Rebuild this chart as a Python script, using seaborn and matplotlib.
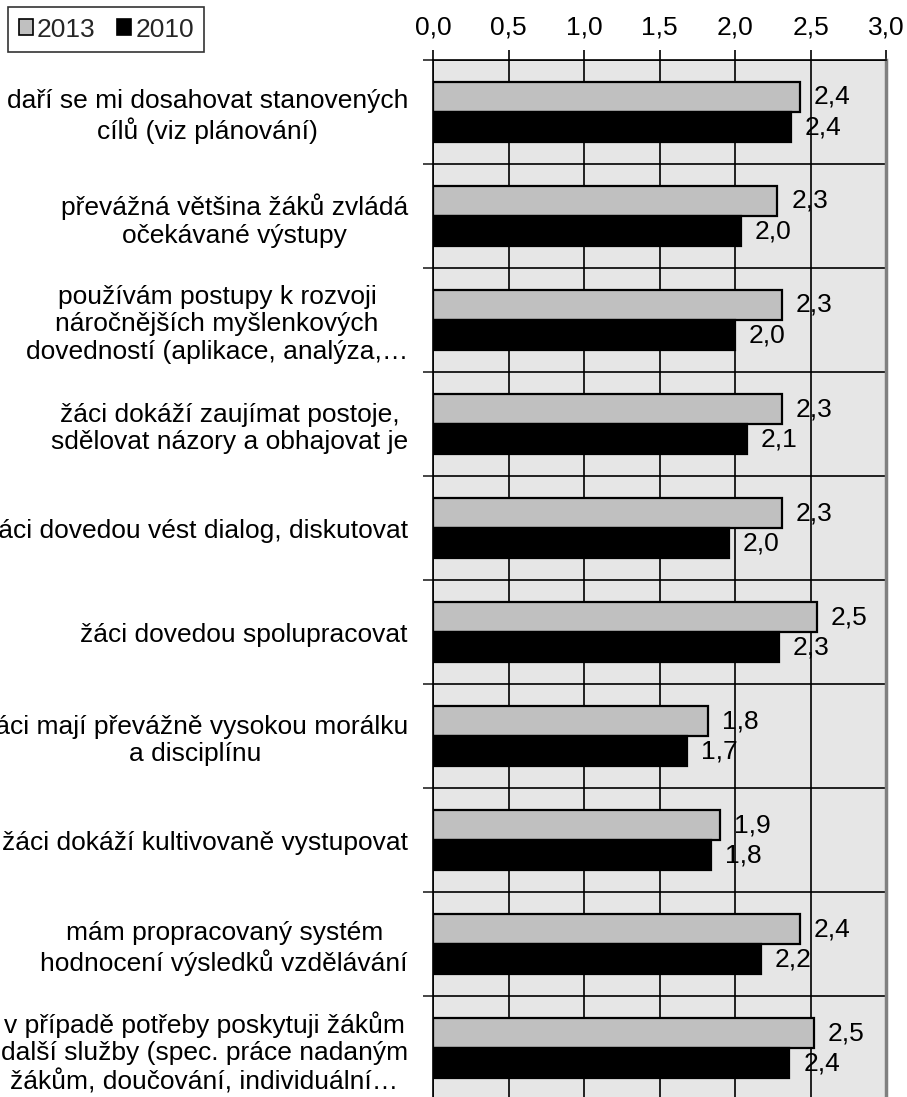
import matplotlib
matplotlib.use("Agg")
import matplotlib.pyplot as plt
import seaborn as sns
import pandas as pd
from matplotlib.patches import Patch
from matplotlib.ticker import FuncFormatter, FixedLocator

categories = [
    "daří se mi dosahovat stanovených\ncílů (viz plánování)",
    "převážná většina žáků zvládá\nočekávané výstupy",
    "používám postupy k rozvoji\nnáročnějších myšlenkových\ndovedností (aplikace, analýza,…",
    "žáci dokáží zaujímat postoje,\nsdělovat názory a obhajovat je",
    "žáci dovedou vést dialog, diskutovat",
    "žáci dovedou spolupracovat",
    "žáci mají převážně vysokou morálku\na disciplínu",
    "žáci dokáží kultivovaně vystupovat",
    "mám propracovaný systém\nhodnocení výsledků vzdělávání",
    "v případě potřeby poskytuji žákům\ndalší služby (spec. práce nadaným\nžákům, doučování, individuální…",
]
values_2013 = [2.43, 2.28, 2.31, 2.31, 2.31, 2.54, 1.82, 1.90, 2.43, 2.52]
values_2010 = [2.37, 2.04, 2.00, 2.08, 1.96, 2.29, 1.68, 1.84, 2.17, 2.36]
years = ["2013", "2010"]
colors = {"2013": "#C0C0C0", "2010": "#000000"}
x_ticks = [0.0, 0.5, 1.0, 1.5, 2.0, 2.5, 3.0]

df = pd.DataFrame({
    "cat": categories * 2,
    "value": values_2013 + values_2010,
    "year": ["2013"] * len(categories) + ["2010"] * len(categories),
})

sns.set_style("white")
plt.rcParams["font.family"] = ["Liberation Sans", "DejaVu Sans"]
FS = 19

fig = plt.figure(figsize=(9.07, 10.97), dpi=100)
bottom = -0.003
top = 1 - 60 / 1097
ax = fig.add_axes([433 / 907, bottom, 453 / 907, top - bottom])
ax.set_facecolor("#E6E6E6")

sns.barplot(data=df, y="cat", x="value", hue="year", hue_order=years,
            palette=colors, orient="h", width=0.58, edgecolor="black",
            linewidth=1.6, ax=ax, legend=False, order=categories)

for c in ax.containers:
    ax.bar_label(c, labels=[f"{v:.1f}".replace(".", ",") for v in c.datavalues],
                 padding=10, fontsize=FS, color="black")

ax.set_xlim(0, 3.0)
ax.set_ylim(len(categories) - 0.5, -0.5)
ax.xaxis.set_major_locator(FixedLocator(x_ticks))
ax.xaxis.set_major_formatter(FuncFormatter(lambda v, p: f"{v:.1f}".replace(".", ",")))
ax.xaxis.tick_top()
ax.tick_params(axis="x", which="major", direction="out", length=7, width=1.2,
               pad=8, labelsize=FS, colors="black", top=True, bottom=False)
ax.set_yticks([i - 0.5 for i in range(len(categories) + 1)], minor=True)
ax.tick_params(axis="y", which="minor", direction="out", length=7, width=1.2, left=True)
ax.tick_params(axis="y", which="major", length=0, pad=18, labelsize=FS, colors="black")
for t in ax.get_yticklabels():
    t.set_multialignment("center")

ax.set_axisbelow(True)
ax.grid(axis="x", which="major", color="black", linewidth=1.2)
ax.grid(axis="y", which="minor", color="black", linewidth=1.2)
ax.set_xlabel("")
ax.set_ylabel("")

for s in ["top", "left"]:
    ax.spines[s].set_color("black")
    ax.spines[s].set_linewidth(1.2)
ax.spines["bottom"].set_visible(False)
ax.spines["right"].set_color("#808080")
ax.spines["right"].set_linewidth(2.5)

handles = [Patch(facecolor=colors[y], edgecolor="black", linewidth=1.2, label=y) for y in years]
leg = fig.legend(handles=handles, loc="upper left", bbox_to_anchor=(8 / 907, 1 - 7 / 1097),
                 ncol=2, fontsize=FS, frameon=True, fancybox=False, handlelength=0.55,
                 handleheight=0.55, handletextpad=0.15, columnspacing=0.8,
                 borderpad=0.4, borderaxespad=0)
leg.get_frame().set_edgecolor("black")
leg.get_frame().set_linewidth(1.2)

fig.savefig("out.png", dpi=100)
